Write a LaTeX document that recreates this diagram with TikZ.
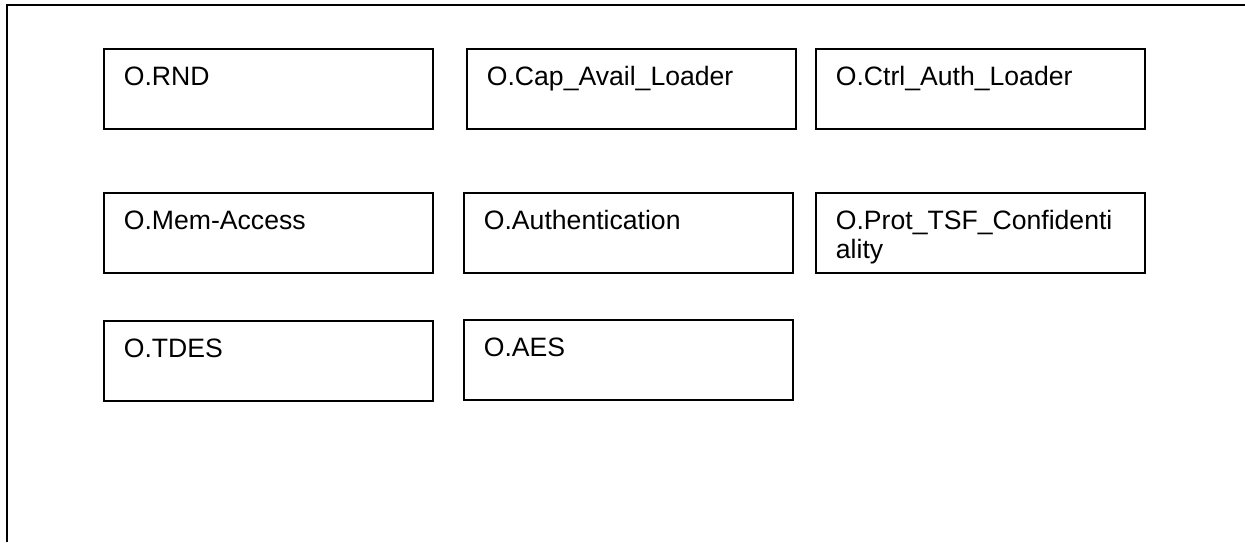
\documentclass[tikz,border=0pt]{standalone}
\usepackage{fontspec}
\setmainfont{Liberation Sans}

\begin{document}
\begin{tikzpicture}[x=1pt, y=-1pt,
        objbox/.style={draw, line width=1.8pt, anchor=north west, minimum width=329pt,
            inner xsep=20pt, inner ysep=0pt, text width=289pt, align=left,
            text height=37pt, text depth=43pt, font=\fontsize{26.6}{29}\selectfont}]
            \useasboundingbox (0, 0) rectangle (1245, 542);
            \draw[line width=2.6pt] (1245, 5) -- (7, 5) -- (7, 542);
            \node[objbox] (rnd) at (103, 48) {O.RND};
            \node[objbox] (capavail) at (466, 48) {O.Cap\_Avail\_Loader};
            \node[objbox] (ctrlauth) at (815, 48) {O.Ctrl\_Auth\_Loader};
            \node[objbox] (memaccess) at (103, 192) {O.Mem-Access};
            \node[objbox] (authentication) at (463, 192) {O.Authentication};
            \node[objbox] (prottsf) at (815, 192) {O.Prot\_TSF\_Confidenti\\ality};
            \node[objbox] (tdes) at (103, 320) {O.TDES};
            \node[objbox] (aes) at (463, 319) {O.AES};
        \end{tikzpicture}
\end{document}
